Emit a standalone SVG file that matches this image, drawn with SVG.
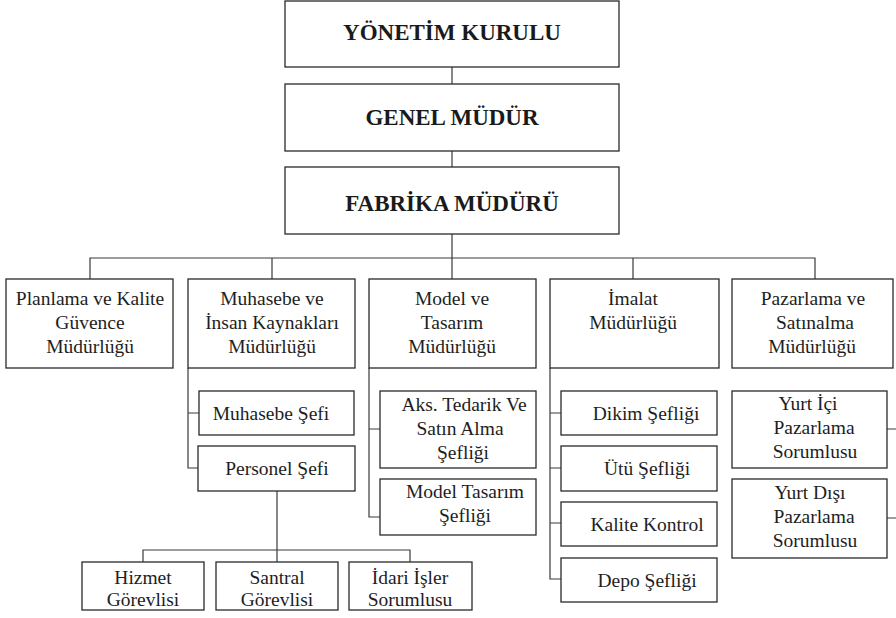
<svg xmlns="http://www.w3.org/2000/svg" width="896" height="618" viewBox="0 0 896 618">
  <style>
    .box { fill: #ffffff; stroke: #2a2a2a; stroke-width: 1.3; }
    .link { fill: none; stroke: #3a3a3a; stroke-width: 1.2; }
    .head { font-weight: bold; font-size: 23px; fill: #1a1a1a; text-anchor: middle; }
    .lbl { font-size: 19.5px; fill: #1e1e1e; text-anchor: middle; }
  </style>
  <rect width="896" height="618" fill="#ffffff"/>

  <!-- connectors -->
  <g id="connectors" class="link">
    <path d="M452 67 V84 M452 151 V167 M452 234 V279"/>
    <path d="M90 279 V258 H815 V279 M272 258 V279 M633 258 V279"/>
    <!-- Muhasebe ve İnsan Kaynakları -->
    <path d="M188 368 V468 H198 M188 413 H199"/>
    <!-- Personel Şefi children -->
    <path d="M277 491 V550 M143 562 V550 H410 V562 M277 550 V562"/>
    <!-- Model ve Tasarım -->
    <path d="M369 368 V517 H380 M369 429 H380"/>
    <!-- İmalat -->
    <path d="M550 368 V579 H561 M550 413 H561 M550 468 H561 M550 523 H561"/>
    <!-- Pazarlama ve Satınalma -->
    <path d="M887 429 H897 M887 518 H897"/>
  </g>

  <!-- top management -->
  <g id="yonetim-kurulu">
    <rect class="box" x="285" y="1" width="334" height="66"/>
    <text class="head" font-family="Liberation Serif" x="452" y="40">YÖNETİM KURULU</text>
  </g>
  <g id="genel-mudur">
    <rect class="box" x="285" y="84" width="334" height="67"/>
    <text class="head" font-family="Liberation Serif" x="452" y="125">GENEL MÜDÜR</text>
  </g>
  <g id="fabrika-muduru">
    <rect class="box" x="285" y="167" width="334" height="67"/>
    <text class="head" font-family="Liberation Serif" x="452" y="211">FABRİKA MÜDÜRÜ</text>
  </g>

  <!-- departments -->
  <g id="planlama">
    <rect class="box" x="6" y="279" width="167" height="89"/>
    <text class="lbl" font-family="Liberation Serif" x="90" y="305">Planlama ve Kalite</text>
    <text class="lbl" font-family="Liberation Serif" x="90" y="329">Güvence</text>
    <text class="lbl" font-family="Liberation Serif" x="90" y="353">Müdürlüğü</text>
  </g>
  <g id="muhasebe-ik">
    <rect class="box" x="188" y="279" width="167" height="89"/>
    <text class="lbl" font-family="Liberation Serif" x="272" y="305">Muhasebe ve</text>
    <text class="lbl" font-family="Liberation Serif" x="272" y="329">İnsan Kaynakları</text>
    <text class="lbl" font-family="Liberation Serif" x="272" y="353">Müdürlüğü</text>
  </g>
  <g id="model-tasarim">
    <rect class="box" x="369" y="279" width="167" height="89"/>
    <text class="lbl" font-family="Liberation Serif" x="452" y="305">Model ve</text>
    <text class="lbl" font-family="Liberation Serif" x="452" y="329">Tasarım</text>
    <text class="lbl" font-family="Liberation Serif" x="452" y="353">Müdürlüğü</text>
  </g>
  <g id="imalat">
    <rect class="box" x="550" y="279" width="169" height="89"/>
    <text class="lbl" font-family="Liberation Serif" x="633" y="305">İmalat</text>
    <text class="lbl" font-family="Liberation Serif" x="633" y="329">Müdürlüğü</text>
  </g>
  <g id="pazarlama">
    <rect class="box" x="732" y="279" width="161" height="89"/>
    <text class="lbl" font-family="Liberation Serif" x="813" y="305">Pazarlama ve</text>
    <text class="lbl" font-family="Liberation Serif" x="815" y="329">Satınalma</text>
    <text class="lbl" font-family="Liberation Serif" x="812" y="353">Müdürlüğü</text>
  </g>

  <!-- Muhasebe column -->
  <g id="muhasebe-sefi">
    <rect class="box" x="199" y="391" width="155" height="44"/>
    <text class="lbl" font-family="Liberation Serif" x="271" y="420">Muhasebe Şefi</text>
  </g>
  <g id="personel-sefi">
    <rect class="box" x="198" y="446" width="157" height="45"/>
    <text class="lbl" font-family="Liberation Serif" x="277" y="475">Personel Şefi</text>
  </g>
  <g id="hizmet">
    <rect class="box" x="82" y="562" width="122" height="48"/>
    <text class="lbl" font-family="Liberation Serif" x="143" y="584">Hizmet</text>
    <text class="lbl" font-family="Liberation Serif" x="143" y="606">Görevlisi</text>
  </g>
  <g id="santral">
    <rect class="box" x="216" y="562" width="122" height="48"/>
    <text class="lbl" font-family="Liberation Serif" x="277" y="584">Santral</text>
    <text class="lbl" font-family="Liberation Serif" x="277" y="606">Görevlisi</text>
  </g>
  <g id="idari-isler">
    <rect class="box" x="349" y="562" width="123" height="48"/>
    <text class="lbl" font-family="Liberation Serif" x="410" y="584">İdari İşler</text>
    <text class="lbl" font-family="Liberation Serif" x="410" y="606">Sorumlusu</text>
  </g>

  <!-- Model column -->
  <g id="aks-tedarik">
    <rect class="box" x="380" y="391" width="156" height="77"/>
    <text class="lbl" font-family="Liberation Serif" x="464" y="411">Aks. Tedarik Ve</text>
    <text class="lbl" font-family="Liberation Serif" x="460" y="435">Satın Alma</text>
    <text class="lbl" font-family="Liberation Serif" x="463" y="459">Şefliği</text>
  </g>
  <g id="model-tasarim-sefligi">
    <rect class="box" x="380" y="479" width="156" height="56"/>
    <text class="lbl" font-family="Liberation Serif" x="465" y="498">Model Tasarım</text>
    <text class="lbl" font-family="Liberation Serif" x="465" y="522">Şefliği</text>
  </g>

  <!-- İmalat column -->
  <g id="dikim">
    <rect class="box" x="561" y="391" width="156" height="44"/>
    <text class="lbl" font-family="Liberation Serif" x="646" y="420">Dikim Şefliği</text>
  </g>
  <g id="utu">
    <rect class="box" x="561" y="446" width="156" height="45"/>
    <text class="lbl" font-family="Liberation Serif" x="647" y="475">Ütü Şefliği</text>
  </g>
  <g id="kalite-kontrol">
    <rect class="box" x="561" y="502" width="156" height="44"/>
    <text class="lbl" font-family="Liberation Serif" x="647" y="531">Kalite Kontrol</text>
  </g>
  <g id="depo">
    <rect class="box" x="561" y="558" width="156" height="44"/>
    <text class="lbl" font-family="Liberation Serif" x="647" y="587">Depo Şefliği</text>
  </g>

  <!-- Pazarlama column -->
  <g id="yurt-ici">
    <rect class="box" x="732" y="391" width="155" height="77"/>
    <text class="lbl" font-family="Liberation Serif" x="808" y="410">Yurt İçi</text>
    <text class="lbl" font-family="Liberation Serif" x="814" y="434">Pazarlama</text>
    <text class="lbl" font-family="Liberation Serif" x="815" y="458">Sorumlusu</text>
  </g>
  <g id="yurt-disi">
    <rect class="box" x="732" y="479" width="155" height="79"/>
    <text class="lbl" font-family="Liberation Serif" x="810" y="499">Yurt Dışı</text>
    <text class="lbl" font-family="Liberation Serif" x="814" y="523">Pazarlama</text>
    <text class="lbl" font-family="Liberation Serif" x="815" y="547">Sorumlusu</text>
  </g>
</svg>
